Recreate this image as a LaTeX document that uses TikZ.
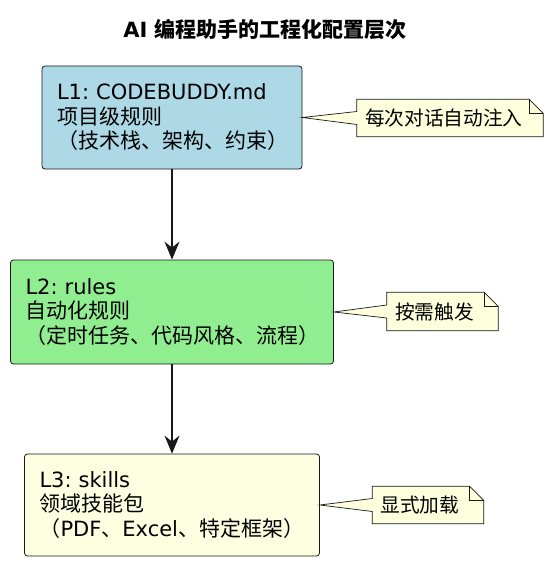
\documentclass[tikz,border=0pt]{standalone}
\usepackage{fontspec}
\setmainfont{DejaVu Sans}
\newfontfamily\cjk{Noto Sans CJK SC}
\usepackage{xcolor}
\usetikzlibrary{arrows.meta}
\definecolor{vdarkgray}{HTML}{181818}
\definecolor{vlightblue}{HTML}{ADD8E6}
\definecolor{vlightgreen}{HTML}{90EE90}
\definecolor{vlightyellow}{HTML}{FEFEE0}
\definecolor{vnote}{HTML}{FEFFDD}
\frenchspacing

\tikzset{
	layer/.style={draw=vdarkgray, line width=0.8pt, rounded corners=3pt, inner xsep=15pt, align=left, font=\fontsize{21}{24.5}\selectfont},
	notebox/.style={inner sep=0pt, font=\fontsize{19.7}{22}\selectfont},
	noteline/.style={draw=vdarkgray, line width=0.7pt, fill=vnote},
	flow/.style={draw=vdarkgray, line width=1.4pt, -{Stealth[length=18pt, width=15pt, inset=6pt]}}
}

\newcommand{\notecallout}[2]{
	\path[noteline] (#1.north west) -- ([xshift=-14pt]#1.north east) -- ([yshift=-14pt]#1.north east) -- (#1.south east) -- (#1.south west) -- ([yshift=-6.5pt]#1.west) -- (#2.east) -- ([yshift=6.5pt]#1.west) -- cycle;
	\draw[color=vdarkgray, line width=0.7pt] ([xshift=-14pt]#1.north east) |- ([yshift=-14pt]#1.north east);
}

\begin{document}
\begin{tikzpicture}[x=1pt, y=-1pt]
	\useasboundingbox (0,0) rectangle (552,564);
	\node[font=\fontsize{21}{24}\selectfont\bfseries] (title) at (265,30) {AI {\cjk 编程助手的工程化配置层次}};

	\node[layer, fill=vlightblue, minimum width=260pt, minimum height=103pt, text width=230pt] (l1) at (172,117.5) {L1: CODEBUDDY.md\\{\cjk 项目级规则}\\{\cjk （技术栈、架构、约束）}};
	\node[layer, fill=vlightgreen, minimum width=323pt, minimum height=104pt, text width=293pt] (l2) at (172,312) {L2: rules\\{\cjk 自动化规则}\\{\cjk （定时任务、代码风格、流程）}};
	\node[layer, fill=vlightyellow, minimum width=295pt, minimum height=102pt, text width=265pt] (l3) at (172,505) {L3: skills\\{\cjk 领域技能包}\\{\cjk （}PDF{\cjk 、}Excel{\cjk 、特定框架）}};

	\draw[flow] (l1) -- (l2);
	\draw[flow] (l2) -- (l3);

	\node[notebox, minimum width=186pt, minimum height=37pt] (n1) at (450,118) {};
	\node[notebox, minimum width=111pt, minimum height=38pt] (n2) at (442.5,311.5) {};
	\node[notebox, minimum width=111pt, minimum height=37pt] (n3) at (428,505) {};
	\notecallout{n1}{l1}
	\notecallout{n2}{l2}
	\notecallout{n3}{l3}
	\node[notebox, anchor=west] (t1) at ([xshift=8pt]n1.west) {\cjk 每次对话自动注入};
	\node[notebox, anchor=west] (t2) at ([xshift=8pt]n2.west) {\cjk 按需触发};
	\node[notebox, anchor=west] (t3) at ([xshift=8pt]n3.west) {\cjk 显式加载};
\end{tikzpicture}
\end{document}
